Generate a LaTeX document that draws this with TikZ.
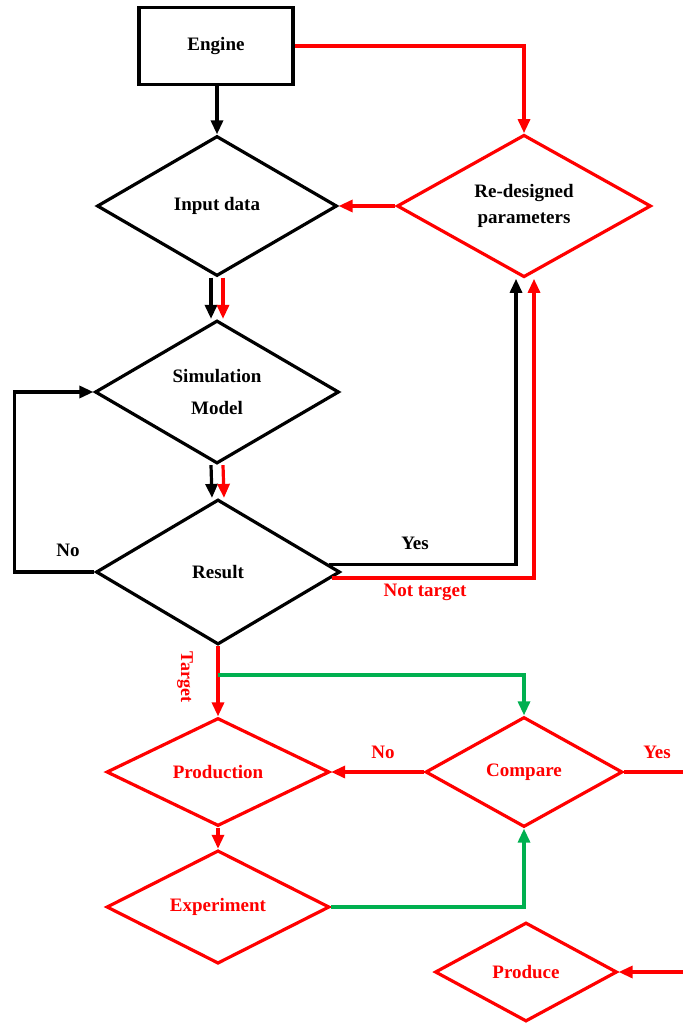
\documentclass[tikz,border=0pt]{standalone}
\usepackage{fontspec}
\setmainfont{Liberation Serif}
\usetikzlibrary{shapes.geometric, positioning, arrows.meta}
\definecolor{mygreen}{RGB}{0,176,80}

\begin{document}
\begin{tikzpicture}[
    x=0.5pt, y=-0.5pt,
    every node/.style={font=\fontsize{9.5}{13}\selectfont\bfseries},
    box/.style={draw, line width=1.6pt, inner sep=0pt},
    dia/.style={draw, diamond, line width=1.6pt, inner sep=0pt, align=center},
    reddia/.style={dia, draw=red, text=red},
    arrow/.style={-{Triangle[length=7pt, width=6pt]}, line width=1.6pt},
    redarrow/.style={arrow, red},
    greenarrow/.style={arrow, mygreen},
    lbl/.style={font=\fontsize{9.5}{11}\selectfont\bfseries}
]
    \useasboundingbox (0,0) rectangle (683,1026);

    % ---- Nodes ----
    \node[box, minimum width=77pt, minimum height=38.5pt] (eng) at (216,46) {Engine};
    \node[dia, minimum width=120pt, minimum height=70pt] (inp) at (217,206) {Input data};
    \node[reddia, text=black, minimum width=127pt, minimum height=65pt] (rd) at (524,206) {Re-designed\\parameters};
    \node[dia, minimum width=122pt, minimum height=71.5pt, font=\fontsize{9.5}{16}\selectfont\bfseries] (sim) at (217,392) {Simulation\\Model};
    \node[dia, minimum width=122pt, minimum height=72.5pt] (res) at (218,572) {Result};
    \node[reddia, minimum width=111.5pt, minimum height=54pt] (prod) at (218,772) {Production};
    \node[reddia, minimum width=98.5pt, minimum height=55pt] (cmp) at (524,772) {Compare};
    \node[reddia, minimum width=111.5pt, minimum height=54.5pt] (exp) at (218,907) {Experiment};
    \node[reddia, minimum width=91pt, minimum height=49.5pt] (pce) at (526,972) {Produce};

    \coordinate (split) at (218,675);
    \coordinate (yesend) at (683,772);
    \coordinate (pcein) at (683,972);

    % ---- Connectors ----
    \draw[arrow] (eng.south -| inp.north) -- (inp.north);
    \draw[redarrow] (eng.east) -| (rd.north);
    \draw[redarrow] (rd.west) -- (inp.east);

    \draw[arrow] ([xshift=-3pt]inp.south) -- ([xshift=-3pt]sim.north);
    \draw[redarrow] ([xshift=3pt]inp.south) -- ([xshift=3pt]sim.north);
    \draw[arrow] ([xshift=-3pt]sim.south) -- ([xshift=-3pt]res.north);
    \draw[redarrow] ([xshift=3pt]sim.south) -- ([xshift=3pt]res.north);

    \draw[arrow] (res.west) -- ++(-80,0) |- (sim.west);
    \draw[arrow] (res.4) -| ([xshift=-4pt]rd.south);
    \draw[redarrow] (res.-3) -| ([xshift=5pt]rd.south);

    \draw[redarrow] (res.south) -- (prod.north);
    \draw[greenarrow] (split) -| (cmp.north);
    \draw[redarrow] (cmp.west) -- (prod.east);
    \draw[red, line width=1.6pt] (cmp.east) -- (yesend);
    \draw[redarrow] (prod.south) -- (exp.north);
    \draw[greenarrow] (exp.east) -| (cmp.south);
    \draw[redarrow] (pcein) -- (pce.east);

    % ---- Labels ----
    \node[lbl] at (68,550) {No};
    \node[lbl] at (415,543) {Yes};
    \node[lbl, text=red] at (425,592) {Not target};
    \node[lbl, text=red, rotate=-90, font=\fontsize{9}{10}\selectfont\bfseries] at (185,677) {Target};
    \node[lbl, text=red] at (383,752) {No};
    \node[lbl, text=red] at (657,752) {Yes};

\end{tikzpicture}
\end{document}
